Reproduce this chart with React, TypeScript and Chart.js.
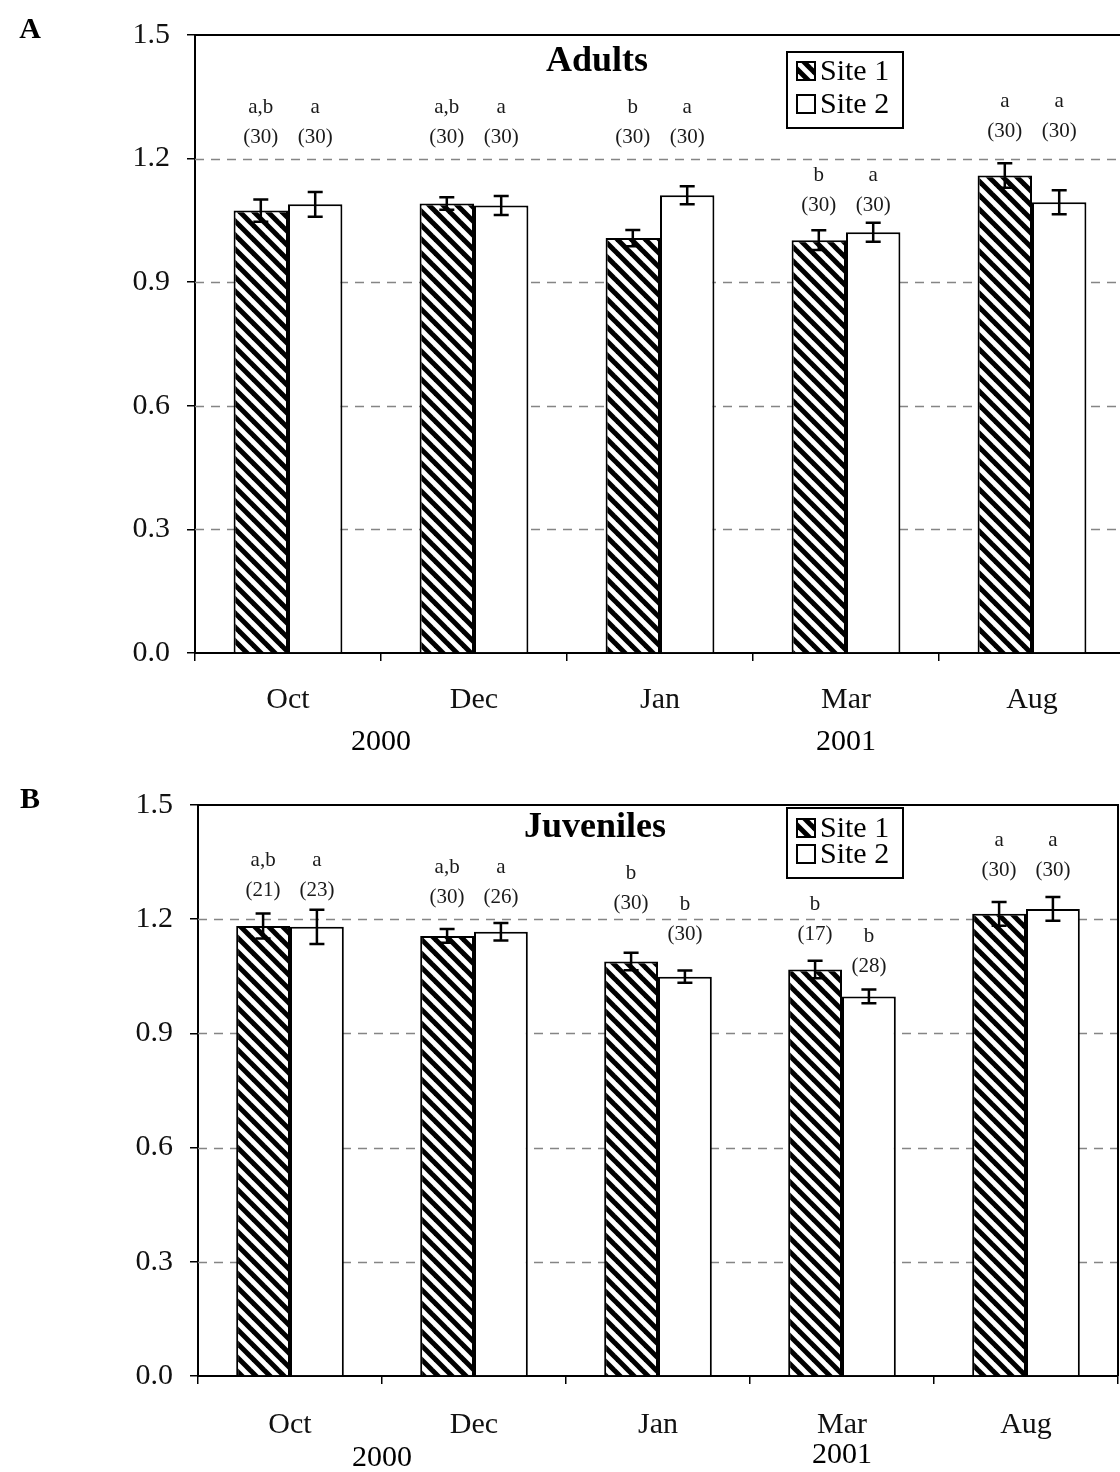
import React, { useEffect, useRef } from "react";
import { Chart, registerables } from "chart.js";

Chart.register(...registerables);

const FONT = '"Liberation Serif", "Times New Roman", serif';

// ---------- data ----------
const categories = ["Oct", "Dec", "Jan", "Mar", "Aug"];
const yearLabels = ["2000", "2001"];
const seriesNames = ["Site 1", "Site 2"];
const yTicks = [0, 0.3, 0.6, 0.9, 1.2, 1.5];
const panelTitles = ["Adults", "Juveniles"];
const panelLetters = ["A", "B"];

const adultsSite1 = [1.074, 1.091, 1.007, 1.002, 1.159];
const adultsSite2 = [1.089, 1.086, 1.111, 1.021, 1.094];
const adultsErr1 = [0.027, 0.015, 0.02, 0.024, 0.03];
const adultsErr2 = [0.03, 0.023, 0.022, 0.023, 0.029];
const adultsLetters1 = ["a,b", "a,b", "b", "b", "a"];
const adultsLetters2 = ["a", "a", "a", "a", "a"];
const adultsN1 = [30, 30, 30, 30, 30];
const adultsN2 = [30, 30, 30, 30, 30];
const adultsLabelLevel1 = [1.251, 1.251, 1.251, 1.086, 1.265];
const adultsLabelLevel2 = [1.251, 1.251, 1.251, 1.086, 1.265];

const juvSite1 = [1.182, 1.156, 1.089, 1.068, 1.214];
const juvSite2 = [1.18, 1.167, 1.049, 0.997, 1.227];
const juvErr1 = [0.033, 0.018, 0.023, 0.023, 0.031];
const juvErr2 = [0.045, 0.023, 0.016, 0.018, 0.031];
const juvLetters1 = ["a,b", "a,b", "b", "b", "a"];
const juvLetters2 = ["a", "a", "b", "b", "a"];
const juvN1 = [21, 30, 30, 17, 30];
const juvN2 = [23, 26, 30, 28, 30];
const juvLabelLevel1 = [1.276, 1.258, 1.24, 1.161, 1.328];
const juvLabelLevel2 = [1.276, 1.258, 1.161, 1.076, 1.328];

// ---------- layout ----------
type Layout = {
  top: number;
  height: number;
  width: number;
  yAxisWidth: number;
  xAxisHeight: number;
  padTop: number;
  padRight: number;
  xTickPad: number;
  titleX: number;
  titleY: number;
  legend: { x: number; y: number; w: number; h: number; row1: number; row2: number };
  yearY: number[];
  letterY: number;
};

const layoutA: Layout = {
  top: 0,
  height: 770,
  width: 1130,
  yAxisWidth: 195,
  xAxisHeight: 117,
  padTop: 32,
  padRight: 5,
  xTickPad: 21,
  titleX: 597,
  titleY: 62,
  legend: { x: 787, y: 52, w: 116, h: 76, row1: 71, row2: 104 },
  yearY: [742, 742],
  letterY: 30,
};

const layoutB: Layout = {
  top: 770,
  height: 702,
  width: 1130,
  yAxisWidth: 198,
  xAxisHeight: 96,
  padTop: 30,
  padRight: 12,
  xTickPad: 23,
  titleX: 595,
  titleY: 58,
  legend: { x: 787, y: 38, w: 116, h: 70, row1: 58, row2: 84 },
  yearY: [688, 685],
  letterY: 30,
};

function makeHatch(): CanvasPattern | string {
  const size = 14;
  const c = document.createElement("canvas");
  c.width = size;
  c.height = size;
  const g = c.getContext("2d");
  if (!g) return "#666";
  g.fillStyle = "#fff";
  g.fillRect(0, 0, size, size);
  g.strokeStyle = "#000";
  g.lineWidth = 5;
  for (const k of [-size, 0, size]) {
    g.beginPath();
    g.moveTo(-2, -2 + k);
    g.lineTo(size + 2, size + 2 + k);
    g.stroke();
  }
  const p = g.createPattern(c, "repeat");
  return p || "#666";
}

type PanelProps = {
  idx: number;
  s1: number[];
  s2: number[];
  e1: number[];
  e2: number[];
  l1: string[];
  l2: string[];
  n1: number[];
  n2: number[];
  lv1: number[];
  lv2: number[];
  layout: Layout;
};

function Panel(props: PanelProps) {
  const ref = useRef<HTMLCanvasElement | null>(null);
  useEffect(() => {
    const canvas = ref.current;
    if (!canvas) return;
    const L = props.layout;
    const hatch = makeHatch();

    const panelPlugin = {
      id: "panelDecor",
      beforeDatasetsDraw(chart: any) {
        const { ctx, chartArea } = chart;
        const y = chart.scales.y;
        ctx.save();
        ctx.strokeStyle = "#858585";
        ctx.lineWidth = 1.6;
        ctx.setLineDash([9, 7]);
        yTicks.forEach((v) => {
          if (v <= 0 || v >= 1.5) return;
          const py = Math.round(y.getPixelForValue(v)) + 0.5;
          ctx.beginPath();
          ctx.moveTo(chartArea.left, py);
          ctx.lineTo(chartArea.right, py);
          ctx.stroke();
        });
        ctx.restore();
      },
      afterDatasetsDraw(chart: any) {
        const { ctx, chartArea } = chart;
        const x = chart.scales.x;
        const y = chart.scales.y;
        ctx.save();
        // error bars
        const errs = [props.e1, props.e2];
        const vals = [props.s1, props.s2];
        ctx.strokeStyle = "#000";
        ctx.lineWidth = 2.5;
        ctx.setLineDash([]);
        [0, 1].forEach((d) => {
          const meta = chart.getDatasetMeta(d);
          meta.data.forEach((bar: any, i: number) => {
            const cx = bar.x;
            const yt = y.getPixelForValue(vals[d][i] + errs[d][i]);
            const yb = y.getPixelForValue(vals[d][i] - errs[d][i]);
            ctx.beginPath();
            ctx.moveTo(cx, yt);
            ctx.lineTo(cx, yb);
            ctx.moveTo(cx - 7.5, yt);
            ctx.lineTo(cx + 7.5, yt);
            ctx.moveTo(cx - 7.5, yb);
            ctx.lineTo(cx + 7.5, yb);
            ctx.stroke();
          });
        });
        // frame top and right
        ctx.lineWidth = 2;
        ctx.beginPath();
        ctx.moveTo(chartArea.left, chartArea.top);
        ctx.lineTo(chartArea.right, chartArea.top);
        ctx.lineTo(chartArea.right, chartArea.bottom);
        ctx.stroke();

        // annotations
        const letters = [props.l1, props.l2];
        const ns = [props.n1, props.n2];
        const lvs = [props.lv1, props.lv2];
        ctx.fillStyle = "#1a1a1a";
        ctx.textAlign = "center";
        ctx.textBaseline = "middle";
        ctx.font = `21px ${FONT}`;
        [0, 1].forEach((d) => {
          const meta = chart.getDatasetMeta(d);
          meta.data.forEach((bar: any, i: number) => {
            const py = y.getPixelForValue(lvs[d][i]);
            ctx.fillText(`(${ns[d][i]})`, bar.x, py);
            ctx.fillText(letters[d][i], bar.x, py - 30);
          });
        });

        // title
        ctx.fillStyle = "#000";
        ctx.font = `bold 36px ${FONT}`;
        ctx.fillText(panelTitles[props.idx], L.titleX, L.titleY);

        // legend
        const lg = L.legend;
        ctx.lineWidth = 2;
        ctx.strokeRect(lg.x, lg.y, lg.w, lg.h);
        const rows = [lg.row1, lg.row2];
        rows.forEach((ry, k) => {
          const sx = lg.x + 10;
          const sy = ry - 9;
          ctx.fillStyle = k === 0 ? (hatch as any) : "#fff";
          ctx.fillRect(sx, sy, 18, 18);
          ctx.lineWidth = 2;
          ctx.strokeRect(sx, sy, 18, 18);
          ctx.fillStyle = "#000";
          ctx.textAlign = "left";
          ctx.font = `30px ${FONT}`;
          ctx.fillText(seriesNames[k], sx + 23, ry + 1);
        });

        // panel letter
        ctx.textAlign = "center";
        ctx.font = `bold 30px ${FONT}`;
        ctx.fillText(panelLetters[props.idx], 30, L.letterY);

        // year labels
        ctx.font = `30px ${FONT}`;
        const x2000 = (x.getPixelForValue(0) + x.getPixelForValue(1)) / 2;
        const x2001 = x.getPixelForValue(3);
        ctx.fillText(yearLabels[0], x2000, L.yearY[0]);
        ctx.fillText(yearLabels[1], x2001, L.yearY[1]);
        ctx.restore();
      },
    };

    const chart = new Chart(canvas, {
      type: "bar",
      data: {
        labels: categories,
        datasets: [
          {
            label: seriesNames[0],
            data: props.s1,
            backgroundColor: hatch as any,
            borderColor: "#000",
            borderWidth: 2,
          },
          {
            label: seriesNames[1],
            data: props.s2,
            backgroundColor: "#fff",
            borderColor: "#000",
            borderWidth: 2,
          },
        ],
      },
      options: {
        responsive: false,
        animation: false,
        events: [],
        layout: { padding: { top: L.padTop, right: L.padRight, left: 0, bottom: 0 } },
        datasets: { bar: { categoryPercentage: 0.585, barPercentage: 1 } },
        plugins: {
          legend: { display: false },
          tooltip: { enabled: false },
          title: { display: false },
        },
        scales: {
          x: {
            offset: true,
            grid: {
              offset: true,
              drawOnChartArea: false,
              drawTicks: true,
              tickLength: 8,
              color: "#000",
              lineWidth: 1.5,
            },
            border: { display: true, color: "#000", width: 2 },
            ticks: {
              color: "#111",
              font: { size: 30, family: FONT },
              padding: L.xTickPad,
              maxRotation: 0,
            },
            afterFit: (s: any) => {
              s.height = L.xAxisHeight;
            },
          },
          y: {
            min: 0,
            max: 1.5,
            afterBuildTicks: (s: any) => {
              s.ticks = yTicks.map((v) => ({ value: v }));
            },
            ticks: {
              color: "#111",
              font: { size: 30, family: FONT },
              padding: 17,
              callback: (v: any) => Number(v).toFixed(1),
            },
            grid: {
              drawOnChartArea: false,
              drawTicks: true,
              tickLength: 8,
              color: "#000",
              lineWidth: 1.5,
            },
            border: { display: true, color: "#000", width: 2 },
            afterFit: (s: any) => {
              s.width = L.yAxisWidth;
            },
          },
        },
      },
      plugins: [panelPlugin],
    });
    return () => chart.destroy();
  }, []);

  const L = props.layout;
  return (
    <canvas
      ref={ref}
      width={L.width}
      height={L.height}
      style={{ position: "absolute", left: 0, top: L.top, width: L.width, height: L.height }}
    />
  );
}

export default function App() {
  return (
    <div
      style={{
        position: "absolute",
        left: 0,
        top: 0,
        width: 1120,
        height: 1472,
        overflow: "hidden",
        background: "#fff",
      }}
    >
      <Panel
        idx={0}
        s1={adultsSite1}
        s2={adultsSite2}
        e1={adultsErr1}
        e2={adultsErr2}
        l1={adultsLetters1}
        l2={adultsLetters2}
        n1={adultsN1}
        n2={adultsN2}
        lv1={adultsLabelLevel1}
        lv2={adultsLabelLevel2}
        layout={layoutA}
      />
      <Panel
        idx={1}
        s1={juvSite1}
        s2={juvSite2}
        e1={juvErr1}
        e2={juvErr2}
        l1={juvLetters1}
        l2={juvLetters2}
        n1={juvN1}
        n2={juvN2}
        lv1={juvLabelLevel1}
        lv2={juvLabelLevel2}
        layout={layoutB}
      />
    </div>
  );
}
